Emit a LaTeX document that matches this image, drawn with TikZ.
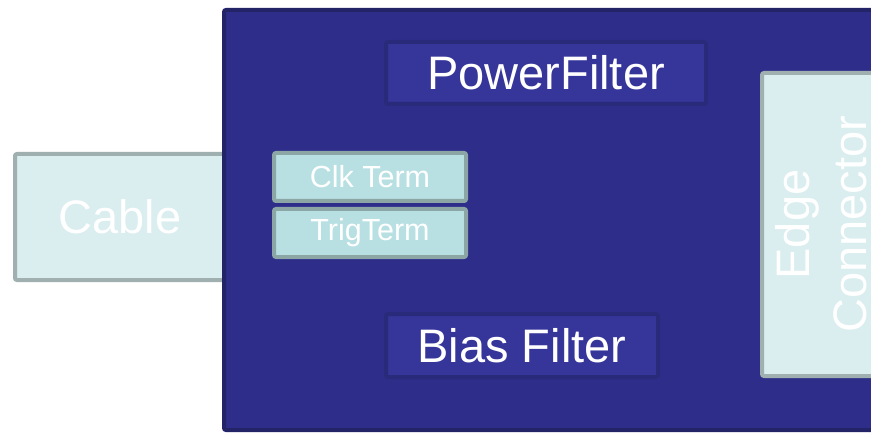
\documentclass[tikz,border=0pt]{standalone}
\usepackage{fontspec}
\setmainfont{Liberation Sans}
\definecolor{boardfill}{HTML}{2E2E8A}
\definecolor{boardline}{HTML}{232368}
\definecolor{filterfill}{HTML}{35359A}
\definecolor{filterline}{HTML}{2A2A7A}
\definecolor{cablefill}{HTML}{DAEDEF}
\definecolor{cableline}{HTML}{A0AFAF}
\definecolor{termfill}{HTML}{B8E0E3}
\definecolor{termline}{HTML}{8CA5A5}
\begin{document}
\begin{tikzpicture}[x=1pt, y=-1pt,
    part/.style={draw, line width=4pt, rounded corners=2pt, inner sep=0pt,
        text=white, font=\fontsize{47}{57}\selectfont},
    board/.style={part, fill=boardfill, draw=boardline},
    filter/.style={part, fill=filterfill, draw=filterline},
    plug/.style={part, fill=cablefill, draw=cableline},
    term/.style={part, fill=termfill, draw=termline, font=\fontsize{30.5}{36}\selectfont}]
    \useasboundingbox (0, 0) rectangle (871, 433);
    \node[plug, minimum width=210pt, minimum height=126pt] (cable) at(120, 217) {Cable};
    \node[board, minimum width=676pt, minimum height=420pt] (board) at(562, 220) {};
    \node[filter, minimum width=320pt, minimum height=62pt] (pwr) at(546, 73) {PowerFilter};
    \node[filter, minimum width=272pt, minimum height=63pt] (bias) at(522, 345.5) {Bias Filter};
    \node[term, minimum width=192pt, minimum height=48pt] (clk) at(370, 177) {Clk Term};
    \node[term, minimum width=192pt, minimum height=48pt] (trig) at(370, 233) {TrigTerm};
    \node[plug, rotate=90, align=center, minimum width=303pt, minimum height=118pt] (edge) at(821, 224.5) {Edge\\Connector};
\end{tikzpicture}
\end{document}
